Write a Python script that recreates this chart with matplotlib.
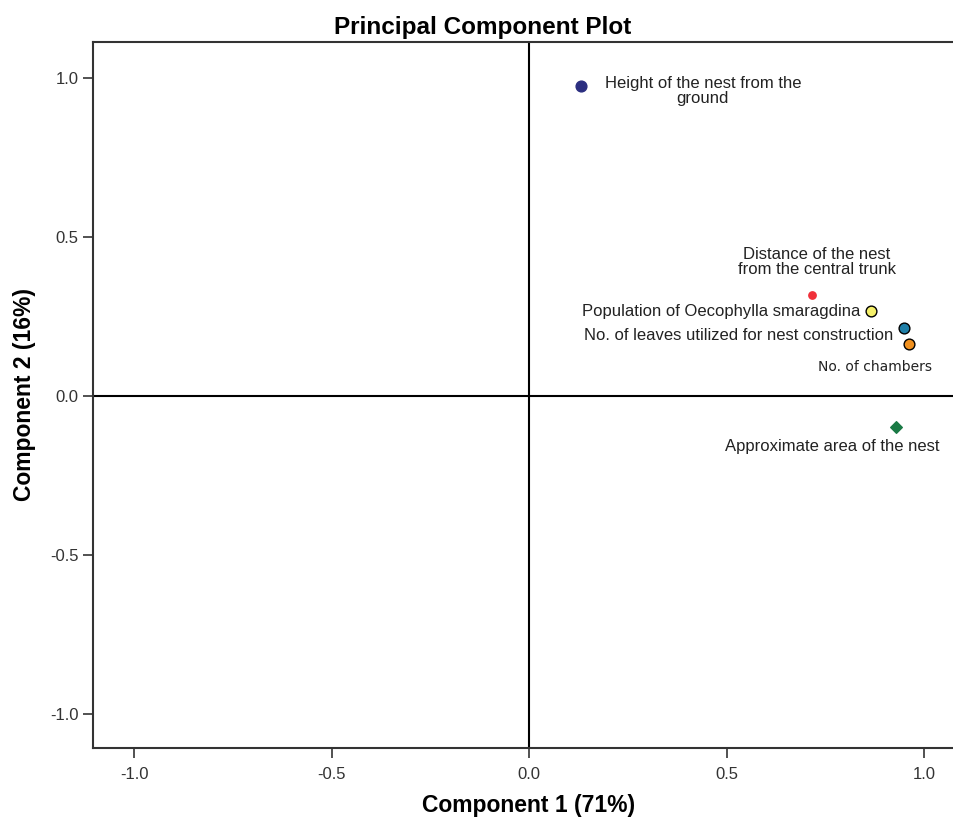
import matplotlib.pyplot as plt

plt.rcParams['font.family'] = ['Liberation Sans', 'DejaVu Sans']

# 载荷 (component 1, component 2)
names = ['Height of the nest from the\nground',
         'Distance of the nest\nfrom the central trunk',
         'Population of Oecophylla smaragdina',
         'No. of leaves utilized for nest construction',
         'No. of chambers',
         'Approximate area of the nest']
comp1 = [0.132, 0.716, 0.866, 0.949, 0.962, 0.929]
comp2 = [0.975, 0.318, 0.267, 0.214, 0.164, -0.097]
colors = ['#2b2e80', '#f0303a', '#f5f06a', '#1f7fa8', '#f0901e', '#1a7a45']
markers = ['o', 'o', 'o', 'o', 'o', 'D']
sizes = [60, 28, 60, 60, 60, 35]
edges = ['#2b2e80', '#f0303a', 'black', 'black', 'black', '#1a7a45']

# 标签位置 (x, y, 对齐方式)
label_pos = [(0.44, 0.959, 'center'), (0.729, 0.421, 'center'),
             (0.838, 0.264, 'right'), (0.922, 0.189, 'right'),
             (0.876, 0.091, 'center'), (0.767, -0.160, 'center')]

fig = plt.figure(figsize=(9.54, 8.21), dpi=100)
ax = fig.add_axes([0.0975, 0.0889, 0.9025, 0.86])

ax.axhline(0, color='black', lw=1.5, zorder=1)
ax.axvline(0, color='black', lw=1.5, zorder=1)

for i in range(len(names)):
    ax.scatter(comp1[i], comp2[i], s=sizes[i], c=colors[i], marker=markers[i],
               edgecolors=edges[i], linewidths=1.0, zorder=3)
    lx, ly, ha = label_pos[i]
    if names[i] == 'No. of chambers':
        ax.text(lx, ly, names[i], ha=ha, va='center', fontsize=10,
                family='DejaVu Sans', color='#222222')
    else:
        ax.text(lx, ly, names[i], ha=ha, va='center', multialignment='center',
                fontsize=12, color='#222222', linespacing=1.0)

ax.set_xlim(-1.104, 1.076)
ax.set_ylim(-1.107, 1.113)
ax.set_xticks([-1.0, -0.5, 0.0, 0.5, 1.0])
ax.set_yticks([-1.0, -0.5, 0.0, 0.5, 1.0])
ax.set_xticklabels(['-1.0', '-0.5', '0.0', '0.5', '1.0'])
ax.set_yticklabels(['-1.0', '-0.5', '0.0', '0.5', '1.0'])
ax.tick_params(direction='out', length=7, width=1.2, labelsize=12,
               labelcolor='#333333', color='#333333')
ax.tick_params(axis='x', pad=7)

ax.spines['right'].set_visible(False)
for s in ['left', 'bottom', 'top']:
    ax.spines[s].set_color('#333333')
    ax.spines[s].set_linewidth(1.5)

fig.text(0.506, 0.967, 'Principal Component Plot', fontsize=17.5,
         fontweight='bold', ha='center', va='center')
ax.set_xlabel('Component 1 (71%)', fontsize=16.5, fontweight='bold', labelpad=8)
ax.xaxis.label.set_x(0.506)
ax.set_ylabel('Component 2 (16%)', fontsize=16.5, fontweight='bold', labelpad=10)

plt.savefig('out.png', dpi=100)
